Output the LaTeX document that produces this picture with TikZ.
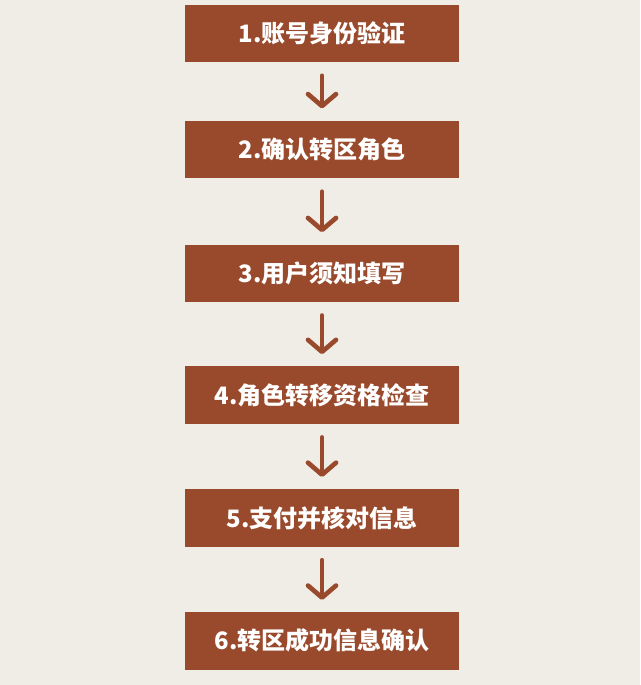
\documentclass[tikz,border=0pt]{standalone}
\usepackage{fontspec}
\setmainfont{Noto Sans CJK SC}
\usepackage{tikz}
\usetikzlibrary{arrows.meta,
                positioning}
\definecolor{paper}{HTML}{F0EDE6}
\definecolor{rust}{HTML}{9A4A2C}
\tikzstyle{stepbox} = [rectangle,fill=rust,text=white,inner sep=0pt,
                       minimum width=206pt,minimum height=43pt,
                       font=\bfseries\fontsize{18}{18}\selectfont]
\tikzstyle{arrow} = [draw=rust,line width=3.5pt,line cap=round,
                     -{Straight Barb[length=9pt,width=21pt,round]},
                     shorten <=10pt,shorten >=9pt]

\begin{document}
\begin{tikzpicture}[x=0.75pt,y=0.75pt]
    
    \fill[paper] (0,0) rectangle (640,-685);
    
    \node[stepbox] (s1) at (322,-33.5) {1.账号身份验证};
    \node[stepbox] (s2)[below=43.5pt of s1] {2.确认转区角色};
    \node[stepbox] (s3)[below=49.5pt of s2] {3.用户须知填写};
    \node[stepbox] (s4)[below=48pt of s3] {4.角色转移资格检查};
    \node[stepbox] (s5)[below=48.75pt of s4] {5.支付并核对信息};
    \node[stepbox] (s6)[below=48.75pt of s5] {6.转区成功信息确认};
    
    \foreach \a/\b in {s1/s2,s2/s3,s3/s4,s4/s5,s5/s6}
      \draw [arrow] (\a) -- (\b);
    \end{tikzpicture}
\end{document}
